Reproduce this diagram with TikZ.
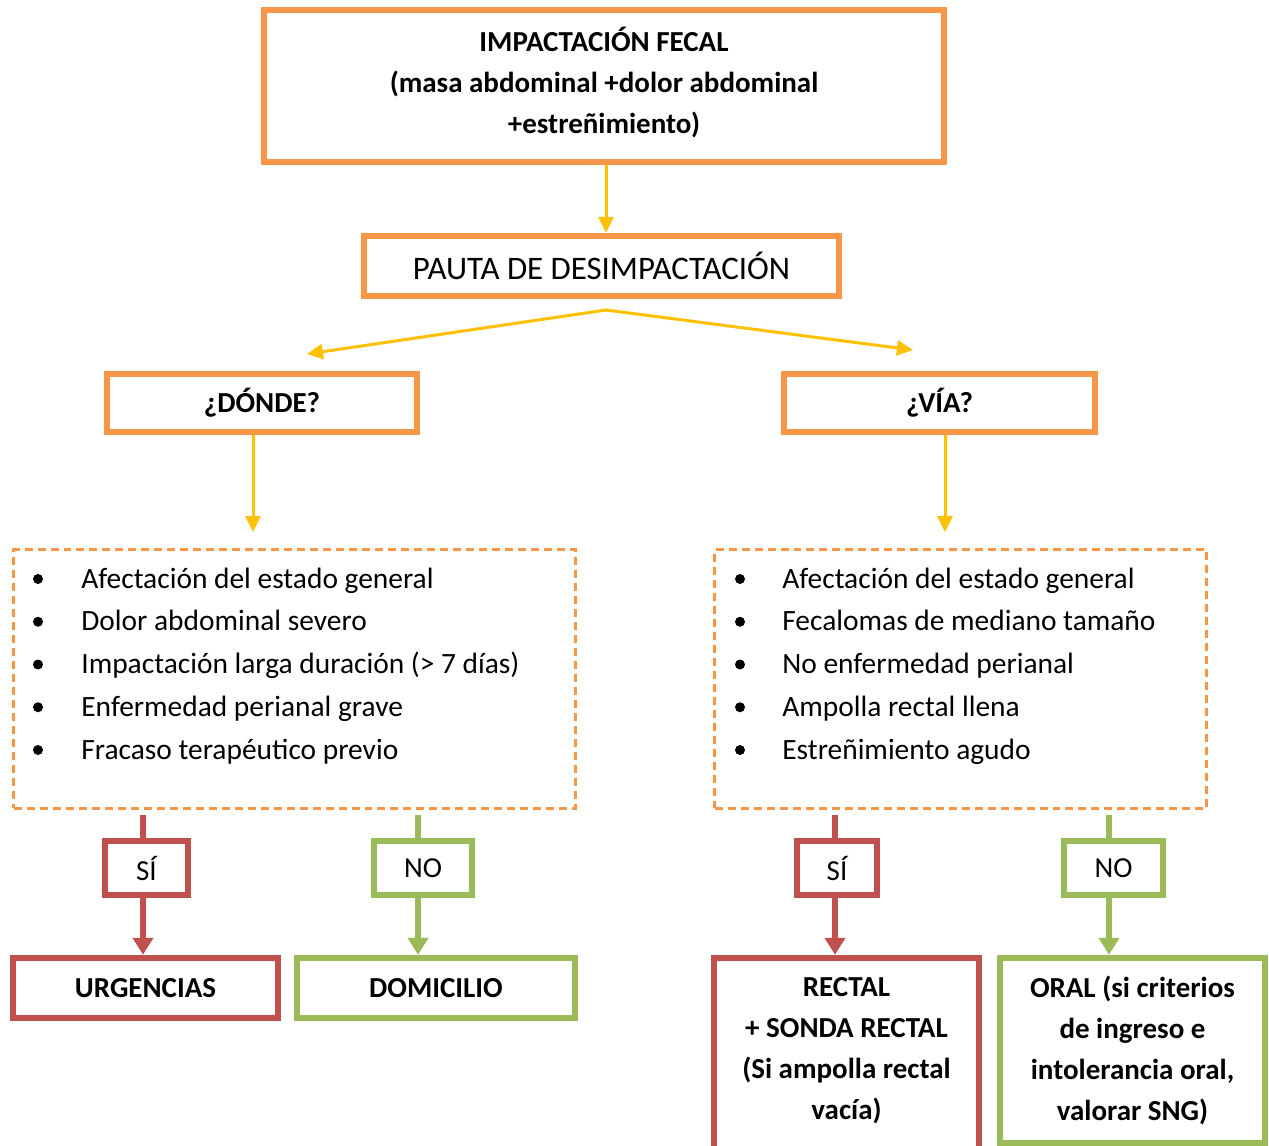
\documentclass[tikz,border=0pt]{standalone}
\usepackage{fontspec}
\setmainfont{Carlito}
\usetikzlibrary{arrows.meta}
\definecolor{boxorange}{RGB}{247,150,70}
\definecolor{arrowyellow}{RGB}{255,192,0}
\definecolor{yesred}{RGB}{192,80,77}
\definecolor{nogreen}{RGB}{155,187,89}

\begin{document}
\begin{tikzpicture}[x = 0.02cm, y = -0.02cm,
  every node/.style = {font = \fontsize{16.5}{23.25}\selectfont, inner sep = 0pt},
  obox/.style = {draw = boxorange, line width = 0.13cm, align = center},
  listbox/.style = {draw = boxorange, line width = 0.06cm, dash pattern = on 0.16cm off 0.1cm},
  rbox/.style = {draw = yesred, line width = 0.13cm, align = center},
  gbox/.style = {draw = nogreen, line width = 0.13cm, align = center},
  yarrow/.style = {draw = arrowyellow, line width = 0.06cm, -{Triangle[length = 0.32cm, width = 0.3cm]}},
  rline/.style = {draw = yesred, line width = 0.13cm},
  gline/.style = {draw = nogreen, line width = 0.13cm},
  tipr/.style = {-{Triangle[length = 0.34cm, width = 0.4cm]}},
  dot/.style = {circle, fill = black, minimum size = 0.2cm},
  item/.style = {anchor = base west, font = \fontsize{16.75}{23.25}\selectfont}]

\useasboundingbox (0, 0) rectangle (1269, 1146);

% main boxes
\node [obox, minimum width = 13.6cm, minimum height = 3.04cm] (impact) at (604, 86)
  {\bfseries IMPACTACIÓN FECAL\\ \bfseries (masa abdominal +dolor abdominal\\ \bfseries +estreñimiento)\rule[-0.24cm]{0pt}{0pt}};
\node [obox, minimum width = 9.5cm, minimum height = 1.2cm, font = \fontsize{18.7}{23.25}\selectfont] (pauta) at (601.5, 266) {PAUTA DE DESIMPACTACIÓN};
\node [obox, minimum width = 6.2cm, minimum height = 1.16cm] (donde) at (262, 403) {\bfseries ¿DÓNDE?};
\node [obox, minimum width = 6.22cm, minimum height = 1.16cm] (via) at (939.5, 403) {\bfseries ¿VÍA?};

% criteria lists
\node [listbox, minimum width = 11.25cm, minimum height = 5.18cm] (listL) at (294.75, 679) {};
\node [listbox, minimum width = 9.85cm, minimum height = 5.18cm] (listR) at (960.75, 679) {};
\foreach \txt [count = \i] in {Afectación del estado general, Dolor abdominal severo,
    Impactación larga duración (> 7 días), Enfermedad perianal grave, Fracaso terapéutico previo} {
  \node [dot] (bulL\i) at (38, {579 + 42.75*(\i - 1)}) {};
  \node [item] (itemL\i) at (81, {588 + 42.75*(\i - 1)}) {\txt};
}
\foreach \txt [count = \i] in {Afectación del estado general, Fecalomas de mediano tamaño,
    No enfermedad perianal, Ampolla rectal llena, Estreñimiento agudo} {
  \node [dot] (bulR\i) at (740, {579 + 42.75*(\i - 1)}) {};
  \node [item] (itemR\i) at (782, {588 + 42.75*(\i - 1)}) {\txt};
}

% yes / no
\node [rbox, minimum width = 1.66cm, minimum height = 1.08cm] (siL) at (146.5, 868) {\raisebox{-0.07cm}{SÍ}};
\node [gbox, minimum width = 1.96cm, minimum height = 1.08cm] (noL) at (423, 868) {\raisebox{-0.07cm}{NO}};
\node [rbox, minimum width = 1.6cm, minimum height = 1.08cm] (siR) at (837, 868) {\raisebox{-0.07cm}{SÍ}};
\node [gbox, minimum width = 1.98cm, minimum height = 1.08cm] (noR) at (1113.5, 868) {\raisebox{-0.07cm}{NO}};

% outcomes
\node [rbox, minimum width = 5.3cm, minimum height = 1.2cm] (urg) at (145.5, 988) {\bfseries URGENCIAS};
\node [gbox, minimum width = 5.56cm, minimum height = 1.2cm] (dom) at (436, 988) {\bfseries DOMICILIO};
\node [rbox, draw = none, outer sep = 0pt, minimum width = 5.3cm, minimum height = 3.7cm] (rectal) at (846.5, 1050.5)
  {\bfseries RECTAL\\ \bfseries + SONDA RECTAL\\ \bfseries (Si ampolla rectal\\ \bfseries vacía)};
\draw [rline] ([yshift = -1cm]rectal.south west) -- (rectal.north west) -- (rectal.north east) -- ([yshift = -1cm]rectal.south east);
\node [gbox, minimum width = 5.3cm, minimum height = 3.7cm] (oral) at (1132.5, 1050.5)
  {\bfseries ORAL (si criterios\\ \bfseries de ingreso e\\ \bfseries intolerancia oral,\\ \bfseries valorar SNG)};

% yellow arrows
\coordinate (apex) at (606, 310);
\coordinate (tipL) at (307, 354);
\coordinate (tipR) at (913, 350);
\coordinate (downL) at (253, 532);
\coordinate (downR) at (945, 532);
\draw [yarrow] (impact.south -| apex) -- (pauta.north -| apex);
\draw [yarrow] (apex) -- (tipL);
\draw [yarrow] (apex) -- (tipR);
\draw [yarrow] (donde.south -| downL) -- (downL);
\draw [yarrow] (via.south -| downR) -- (downR);

% branches
\coordinate (sL) at (143, 815);
\coordinate (nL) at (418, 815);
\coordinate (sR) at (835, 815);
\coordinate (nR) at (1109, 815);
\draw [rline] (sL) -- (siL.north -| sL);
\draw [rline, tipr] (siL.south -| sL) -- (urg.north -| sL);
\draw [gline] (nL) -- (noL.north -| nL);
\draw [gline, tipr] (noL.south -| nL) -- (dom.north -| nL);
\draw [rline] (sR) -- (siR.north -| sR);
\draw [rline, tipr] (siR.south -| sR) -- ([yshift = 0.065cm]rectal.north -| sR);
\draw [gline] (nR) -- (noR.north -| nR);
\draw [gline, tipr] (noR.south -| nR) -- (oral.north -| nR);

\end{tikzpicture}
\end{document}
